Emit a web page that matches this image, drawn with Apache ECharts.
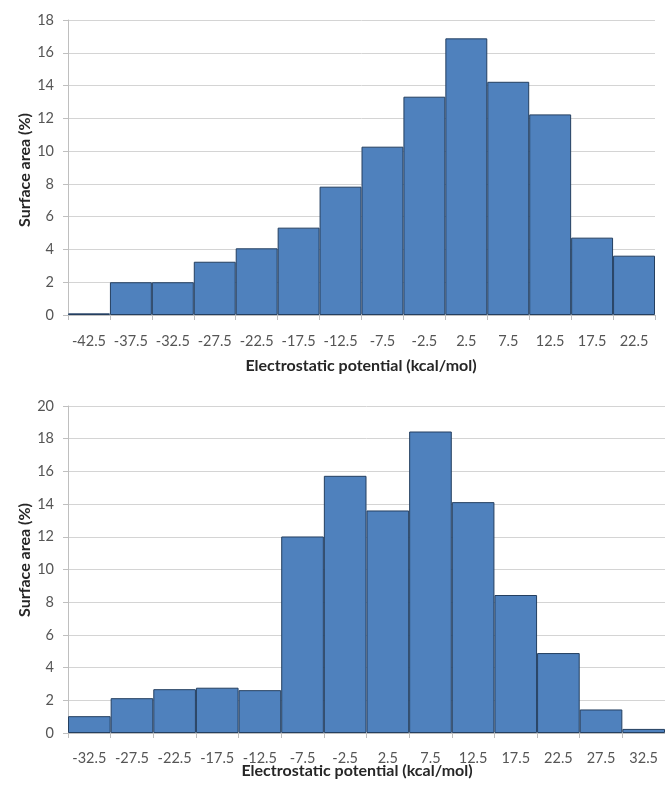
<!DOCTYPE html>
<html>
<head>
<meta charset="utf-8">
<script src="https://cdn.jsdelivr.net/npm/echarts@6/dist/echarts.min.js"></script>
<style>
html,body{margin:0;padding:0;background:#fff;}
#c{width:665px;height:785px;}
</style>
</head>
<body>
<div id="c"></div>
<script>
var topCategories = ['-42.5','-37.5','-32.5','-27.5','-22.5','-17.5','-12.5','-7.5','-2.5','2.5','7.5','12.5','17.5','22.5'];
var topValues = [0.1, 2.0, 2.0, 3.25, 4.07, 5.33, 7.83, 10.27, 13.32, 16.88, 14.23, 12.24, 4.72, 3.62];
var bottomCategories = ['-32.5','-27.5','-22.5','-17.5','-12.5','-7.5','-2.5','2.5','7.5','12.5','17.5','22.5','27.5','32.5'];
var bottomValues = [1.03, 2.13, 2.68, 2.77, 2.62, 12.02, 15.73, 13.61, 18.44, 14.12, 8.44, 4.89, 1.44, 0.25];
var yTitle = 'Surface area (%)';
var xTitle = 'Electrostatic potential (kcal/mol)';

var font = 'Lato, "Open Sans", sans-serif';
var labelColor = '#555555';
var chart = echarts.init(document.getElementById('c'), null, {renderer:'canvas'});

function xAxis(idx, cats, margin){
  return {
    type:'category', gridIndex:idx, data:cats, boundaryGap:true,
    axisLine:{show:true, lineStyle:{color:'#bfbfbf', width:1}},
    axisTick:{show:true, length:5, alignWithLabel:false, lineStyle:{color:'#bfbfbf'}},
    axisLabel:{color:labelColor, fontFamily:font, fontSize:14.5, margin:margin, interval:0},
    splitLine:{show:false}
  };
}
function yAxis(idx, max){
  return {
    type:'value', gridIndex:idx, min:0, max:max, interval:2,
    axisLine:{show:true, lineStyle:{color:'#bfbfbf', width:1}},
    axisTick:{show:true, length:5, lineStyle:{color:'#bfbfbf'}},
    axisLabel:{color:labelColor, fontFamily:font, fontSize:14.5, margin:14},
    splitLine:{show:true, lineStyle:{color:'#d4d4d4', width:1}}
  };
}
var barStyle = {color:'#4f81bd', borderColor:'#243f60', borderWidth:1};
var titleFont = 'bold 16px ' + font;

chart.setOption({
  animation:false,
  grid:[
    {left:68, top:20, width:587, height:295},
    {left:68, top:406, width:606, height:327}
  ],
  xAxis:[xAxis(0, topCategories, 19), xAxis(1, bottomCategories, 18)],
  yAxis:[yAxis(0, 18), yAxis(1, 20)],
  series:[
    {type:'bar', xAxisIndex:0, yAxisIndex:0, data:topValues, barCategoryGap:'0%', itemStyle:barStyle},
    {type:'bar', xAxisIndex:1, yAxisIndex:1, data:bottomValues, barCategoryGap:'0%', itemStyle:barStyle}
  ],
  graphic:[
    {type:'text', rotation:Math.PI/2, x:25, y:170, style:{text:yTitle, font:titleFont, fill:'#262626', textAlign:'center', textVerticalAlign:'middle'}},
    {type:'text', rotation:Math.PI/2, x:25, y:560, style:{text:yTitle, font:titleFont, fill:'#262626', textAlign:'center', textVerticalAlign:'middle'}},
    {type:'text', x:361, y:366, style:{text:xTitle, font:titleFont, fill:'#262626', textAlign:'center', textVerticalAlign:'middle'}},
    {type:'text', x:357, y:771, style:{text:xTitle, font:titleFont, fill:'#262626', textAlign:'center', textVerticalAlign:'middle'}}
  ]
});
</script>
</body>
</html>
